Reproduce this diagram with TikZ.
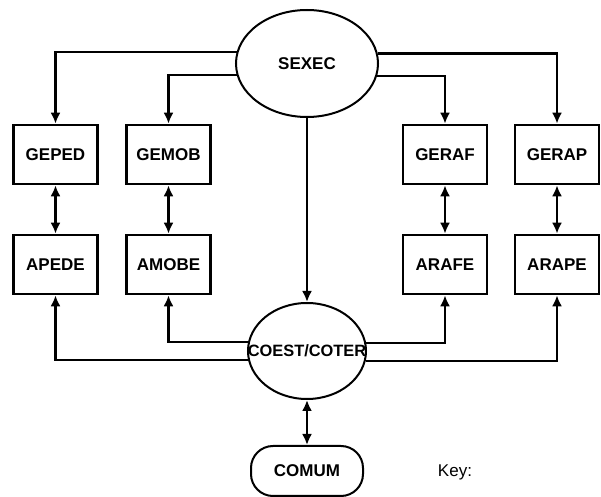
\documentclass[tikz,border=0pt]{standalone}
\usepackage{fontspec}
\setmainfont{Liberation Sans}
\usetikzlibrary{arrows.meta,shapes.geometric}
\begin{document}
\begin{tikzpicture}[x=0.5pt,y=-0.5pt,font=\fontsize{8.5}{10}\selectfont\bfseries,
  box/.style={draw,line width=1.3pt,minimum width=42pt,minimum height=29.5pt,inner sep=0pt},
  oval/.style={draw,ellipse,line width=1pt,inner sep=0pt},
  arr/.style={line width=1.1pt,-{Latex[length=5.5pt,width=5pt]}},
  darr/.style={line width=1.1pt,{Latex[length=5.5pt,width=5pt]}-{Latex[length=5.5pt,width=5pt]}}]
\useasboundingbox (0,0) rectangle (601,497);
\node[oval,minimum width=71pt,minimum height=53.5pt] (sexec) at (307,63.5) {SEXEC};
\node[oval,minimum width=59pt,minimum height=48pt] (coest) at (307,351) {\makebox[0pt]{\fontsize{8.2}{10}\selectfont COEST/COTER}};
\node[box] (geped) at (55.5,154.5) {GEPED};
\node[box] (gemob) at (168.5,154.5) {GEMOB};
\node[box] (geraf) at (445,154.5) {GERAF};
\node[box] (gerap) at (557,154.5) {GERAP};
\node[box] (apede) at (55.5,264.5) {APEDE};
\node[box] (amobe) at (168.5,264.5) {AMOBE};
\node[box] (arafe) at (445,264.5) {ARAFE};
\node[box] (arape) at (557,264.5) {ARAPE};
\node[draw,rounded corners=11pt,line width=1pt,minimum width=56pt,minimum height=25pt] (comum) at (307,471) {COMUM};
\node[font=\fontsize{8.5}{10}\selectfont] (key) at (455,472) {Key:};

% SEXEC to the top row
\draw[arr] (sexec.171.4) -| (geped);
\draw[arr] (sexec.189.4) -| (gemob);
\draw[arr] (sexec.350.6) -| (geraf);
\draw[arr] (sexec.8.6) -| (gerap);
\draw[arr] (sexec) -- (coest);

% top row to bottom row
\draw[darr] (geped) -- (apede);
\draw[darr] (gemob) -- (amobe);
\draw[darr] (geraf) -- (arafe);
\draw[darr] (gerap) -- (arape);

% COEST/COTER to the bottom row
\draw[arr] (coest.171.2) -| (amobe);
\draw[arr] (coest.189.8) -| (apede);
\draw[arr] (coest.8.8) -| (arafe);
\draw[arr] (coest.350.2) -| (arape);
\draw[darr] (coest) -- (comum);
\end{tikzpicture}
\end{document}
